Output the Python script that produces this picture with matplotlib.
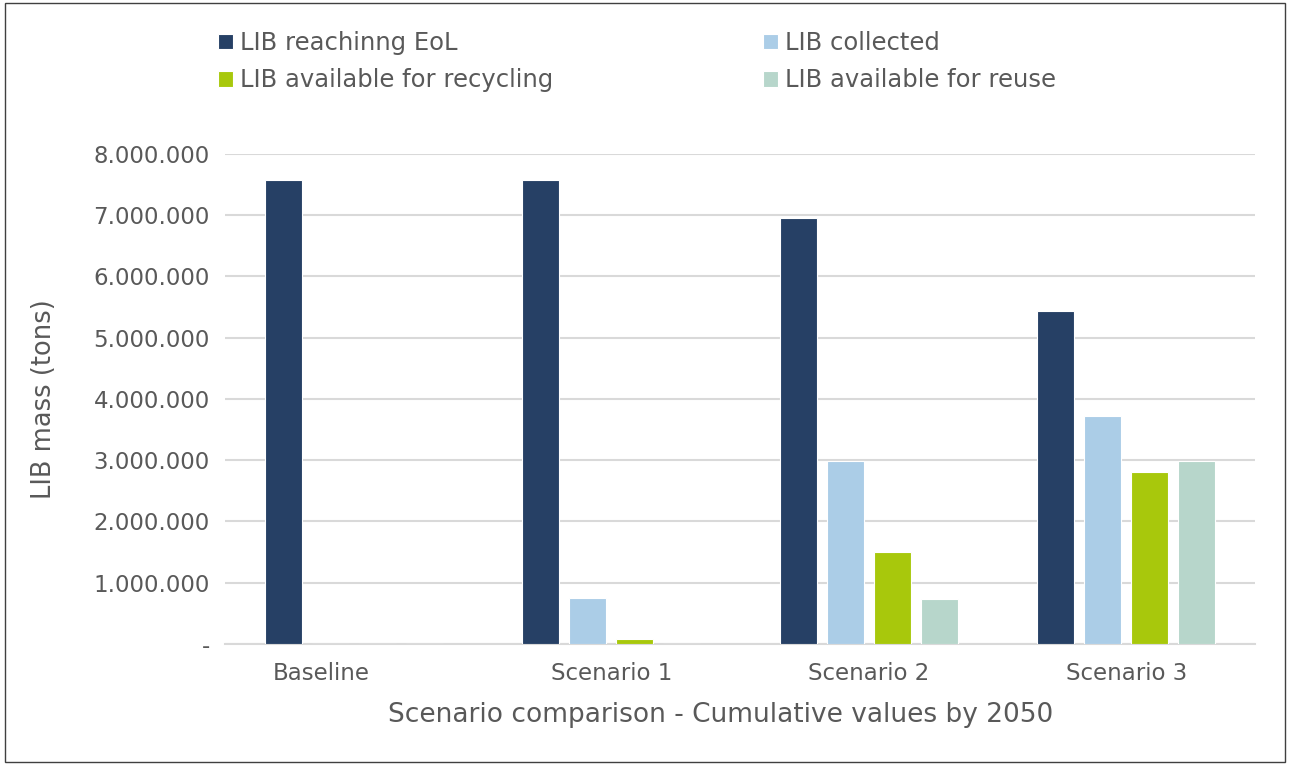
import numpy as np
import matplotlib.pyplot as plt
from matplotlib.ticker import FuncFormatter
from matplotlib.patches import Rectangle
import matplotlib.transforms as mtransforms

plt.rcParams['font.family'] = ['DejaVu Sans']

scenarios = ['Baseline', 'Scenario 1', 'Scenario 2', 'Scenario 3']
series = ['LIB reachinng EoL', 'LIB collected', 'LIB available for recycling', 'LIB available for reuse']
eol = [7580000, 7580000, 6960000, 5430000]
collected = [0, 750000, 2980000, 3730000]
recycling = [0, 80000, 1500000, 2800000]
reuse = [0, 0, 730000, 2980000]
colors = ['#264065', '#abcde7', '#a8c80c', '#b7d6cb']

text_col = '#595959'

fig = plt.figure(figsize=(12.9, 7.65), dpi=100)
ax = fig.add_axes([0.1744, 0.1582, 0.7985, 0.6405])

x = np.arange(len(scenarios))
step = 0.1825
width = 0.1437
handles = []
for i, (vals, name) in enumerate(zip([eol, collected, recycling, reuse], series)):
    b = ax.bar(x + (i - 1.5) * step, vals, width, color=colors[i], label=name,
               edgecolor='white', linewidth=0.8, zorder=3)
    handles.append(b)

ax.set_xlim(-0.5, len(scenarios) - 0.5)
ax.set_ylim(0, 8000000)
ax.set_yticks(np.arange(0, 8000001, 1000000))


def fmt(v, pos):
    if v == 0:
        return '-'
    return f'{int(v):,}'.replace(',', '.')


ax.yaxis.set_major_formatter(FuncFormatter(fmt))
ax.grid(axis='y', color='#d9d9d9', linewidth=1.5, zorder=0)
for s in ['top', 'right', 'left']:
    ax.spines[s].set_visible(False)
ax.spines['bottom'].set_color('#d9d9d9')
ax.spines['bottom'].set_linewidth(1.5)
ax.tick_params(axis='both', length=0, labelsize=16.5, colors=text_col)
ax.tick_params(axis='y', pad=11)
ax.tick_params(axis='x', pad=13)
ax.set_xticks(x)
ax.set_xticklabels(scenarios)
# first label sits a little left of its category in the original
off = mtransforms.ScaledTranslation(-0.32, 0, fig.dpi_scale_trans)
ax.get_xticklabels()[0].set_transform(ax.get_xticklabels()[0].get_transform() + off)

ax.set_ylabel('LIB mass (tons)', fontsize=18.5, color=text_col, labelpad=26)
ax.set_xlabel('Scenario comparison - Cumulative values by 2050', fontsize=19, color=text_col,
              labelpad=12, x=0.4816)

# legend fills row by row in the original
order = [0, 2, 1, 3]
fig.legend(handles=[handles[k] for k in order], loc='upper left', bbox_to_anchor=(0.152, 0.988), ncol=2,
           frameon=False, fontsize=17.5, handlelength=0.6, handleheight=0.6,
           handletextpad=0.3, columnspacing=8.65, labelcolor=text_col, labelspacing=0.55)

fig.patches.append(Rectangle((0.004, 0.004), 0.992, 0.992, transform=fig.transFigure,
                             fill=False, edgecolor='#404040', linewidth=1))

fig.savefig('out.png', dpi=100)
